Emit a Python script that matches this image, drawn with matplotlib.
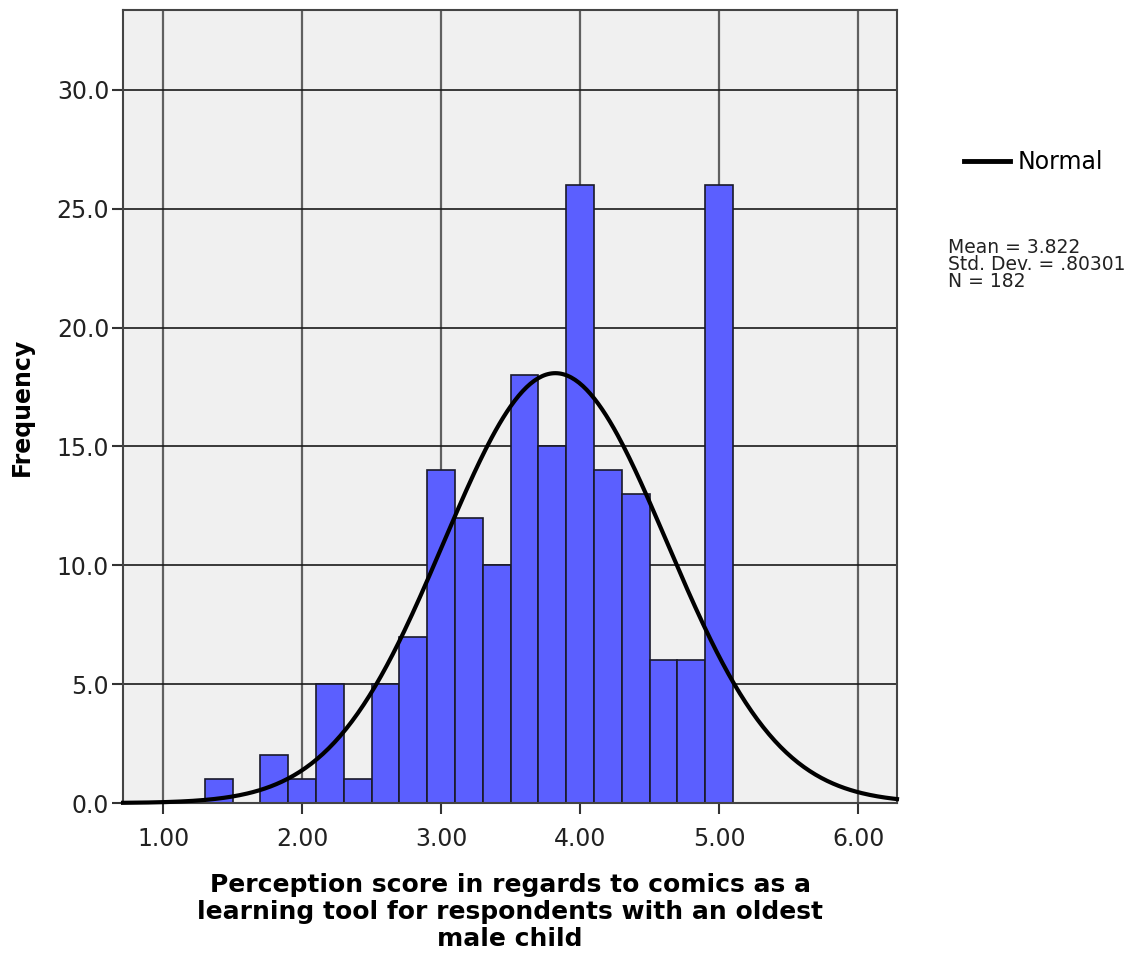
import numpy as np
import matplotlib
matplotlib.use("Agg")
import matplotlib.pyplot as plt
from matplotlib.lines import Line2D

# Histogram bins (width 0.2) and their frequencies
bin_edges = [1.3, 1.5, 1.7, 1.9, 2.1, 2.3, 2.5, 2.7, 2.9, 3.1, 3.3,
             3.5, 3.7, 3.9, 4.1, 4.3, 4.5, 4.7, 4.9, 5.1]
counts = [1, 0, 2, 1, 5, 1, 5, 7, 14, 12, 10, 18, 15, 26, 14, 13, 6, 6, 26]

# Summary statistics
mean = 3.822
std_dev = 0.80301
n_obs = 182

x_ticks = [1.0, 2.0, 3.0, 4.0, 5.0, 6.0]
y_ticks = [0.0, 5.0, 10.0, 15.0, 20.0, 25.0, 30.0]

fig = plt.figure(figsize=(11.31, 9.56), dpi=100)
ax = fig.add_axes([0.1088, 0.160, 0.6843, 0.8295])
ax.set_facecolor("#f0f0f0")

xmin, xmax = 0.712, 6.28
ax.set_xlim(xmin, xmax)
ax.set_ylim(0, 33.36)

# grid: vertical lines grey, horizontal lines near-black
for xv in x_ticks:
    ax.axvline(xv, color="#606060", lw=1.6, zorder=1)
for yv in y_ticks[1:]:
    ax.axhline(yv, color="#1a1a1a", lw=1.2, zorder=1)

widths = np.diff(bin_edges)
ax.bar(bin_edges[:-1], counts, width=widths, align="edge",
       color="#5b5fff", edgecolor="#1a1a2a", linewidth=1.2, zorder=2)

# fitted normal curve scaled to counts
bw = widths[0]
xs = np.linspace(xmin, xmax, 400)
ys = n_obs * bw / (std_dev * np.sqrt(2 * np.pi)) * np.exp(-0.5 * ((xs - mean) / std_dev) ** 2)
ax.plot(xs, ys, color="black", lw=3, zorder=3, clip_on=False)

ax.set_xticks(x_ticks)
ax.set_xticklabels([f"{v:.2f}" for v in x_ticks])
ax.set_yticks(y_ticks)
ax.set_yticklabels([f"{v:.1f}" for v in y_ticks])
ax.tick_params(axis="both", direction="out", length=8, width=1.5,
               color="#333333", labelsize=17, labelcolor="#222222")
ax.tick_params(axis="x", pad=9)
ax.tick_params(axis="y", pad=2)
for sp in ax.spines.values():
    sp.set_color("#444444")
    sp.set_linewidth(1.5)

ax.set_xlabel("Perception score in regards to comics as a\nlearning tool for respondents with an oldest\nmale child",
              fontsize=18, fontweight="bold", linespacing=1.15, labelpad=16)
ax.set_ylabel("Frequency", fontsize=17, fontweight="bold", labelpad=16)

# legend and statistics box on the right
fig.add_artist(Line2D([964 / 1131, 1010 / 1131], [1 - 161 / 956] * 2,
                      color="black", lw=3.5))
fig.text(1018 / 1131, 1 - 162 / 956, "Normal", fontsize=17, va="center", ha="left")
fig.text(948 / 1131, 1 - 238 / 956, "Mean = 3.822\nStd. Dev. = .80301\nN = 182",
         fontsize=13.5, va="top", ha="left", linespacing=0.88, color="#222222")

fig.savefig("out.png", dpi=100)
